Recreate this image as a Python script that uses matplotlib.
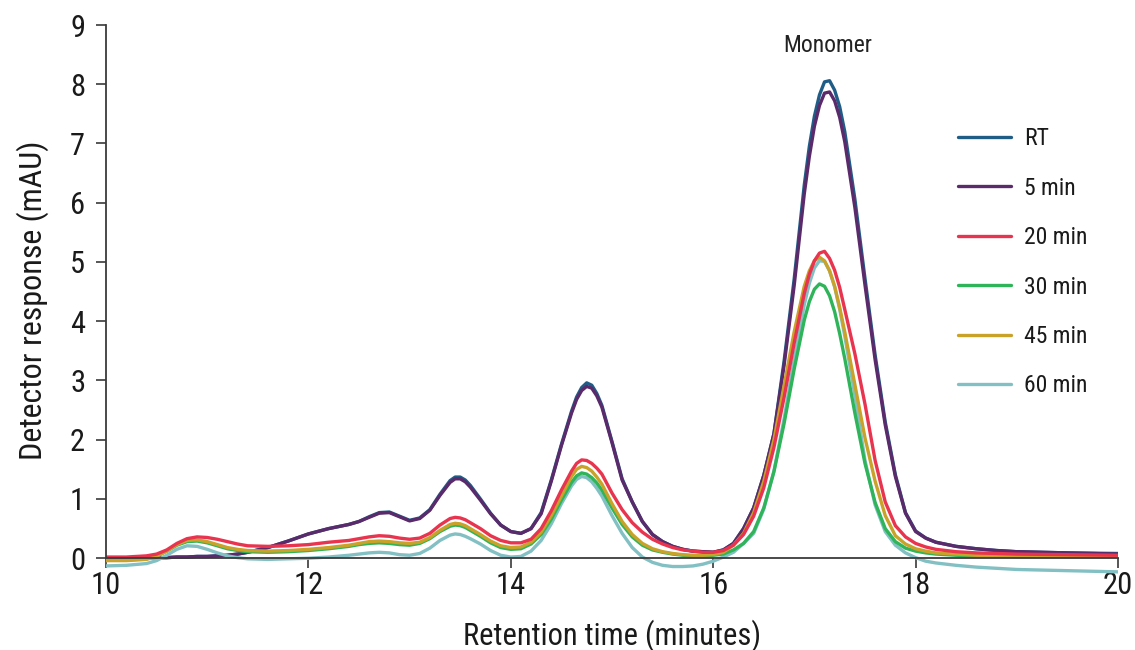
import matplotlib
matplotlib.use("Agg")
import matplotlib.pyplot as plt
from matplotlib import font_manager

# ---------------- data ----------------
time_min = [10.0, 10.2, 10.4, 10.5, 10.6, 10.7, 10.8, 10.9, 11.0, 11.1,
            11.2, 11.3, 11.4, 11.6, 11.8, 12.0, 12.2, 12.4, 12.5, 12.6,
            12.7, 12.8, 12.9, 13.0, 13.1, 13.2, 13.3, 13.4, 13.45, 13.5,
            13.55, 13.6,
            13.7, 13.8, 13.9, 14.0, 14.1, 14.2, 14.3, 14.4, 14.5, 14.6,
            14.65, 14.7, 14.75, 14.8, 14.85, 14.9, 15.0, 15.1, 15.2, 15.3,
            15.4, 15.5, 15.6,
            15.7, 15.8, 15.9, 16.0, 16.1, 16.2, 16.3, 16.4, 16.5, 16.6,
            16.7, 16.8, 16.9, 16.95, 17.0, 17.05, 17.1, 17.15, 17.2, 17.25,
            17.3, 17.4, 17.5, 17.6, 17.7, 17.8, 17.9, 18.0, 18.1, 18.2,
            18.4, 18.6, 18.8, 19.0, 19.5, 20.0]

rt = [0.0, 0.0, 0.01, 0.01, 0.01, 0.02, 0.02, 0.03, 0.03, 0.04,
      0.05, 0.07, 0.1, 0.18, 0.29, 0.41, 0.5, 0.57, 0.62, 0.7,
      0.77, 0.78, 0.71, 0.64, 0.68, 0.82, 1.08, 1.31, 1.37, 1.37,
      1.32, 1.23,
      1.0, 0.76, 0.56, 0.45, 0.42, 0.5, 0.77, 1.32, 1.92, 2.48,
      2.72, 2.88, 2.96, 2.92, 2.78, 2.58, 1.97, 1.34, 0.95, 0.62,
      0.4, 0.28, 0.2,
      0.15, 0.12, 0.11, 0.1, 0.14, 0.25, 0.5, 0.85, 1.4, 2.1,
      3.32, 4.71, 6.3, 6.95, 7.46, 7.82, 8.04, 8.06, 7.9, 7.62,
      7.2, 6.06, 4.72, 3.43, 2.3, 1.41, 0.77, 0.46, 0.34, 0.27,
      0.2, 0.16, 0.13, 0.11, 0.09, 0.08]

min5 = [0.0, 0.0, 0.01, 0.01, 0.01, 0.02, 0.02, 0.03, 0.03, 0.04,
        0.05, 0.07, 0.1, 0.18, 0.29, 0.41, 0.5, 0.57, 0.62, 0.69,
        0.76, 0.77, 0.7, 0.63, 0.67, 0.81, 1.06, 1.28, 1.34, 1.34,
        1.29, 1.2,
        0.98, 0.75, 0.56, 0.45, 0.42, 0.5, 0.75, 1.3, 1.9, 2.45,
        2.68, 2.83, 2.9, 2.87, 2.74, 2.55, 1.95, 1.32, 0.95, 0.62,
        0.4, 0.28, 0.2,
        0.15, 0.12, 0.11, 0.1, 0.14, 0.25, 0.5, 0.85, 1.4, 2.1,
        3.25, 4.6, 6.15, 6.78, 7.29, 7.64, 7.85, 7.87, 7.72, 7.44,
        7.03, 5.92, 4.61, 3.35, 2.25, 1.38, 0.76, 0.45, 0.34, 0.27,
        0.2, 0.16, 0.13, 0.11, 0.09, 0.07]

min20 = [0.02, 0.02, 0.04, 0.07, 0.14, 0.25, 0.33, 0.36, 0.35, 0.32,
         0.28, 0.24, 0.21, 0.2, 0.21, 0.23, 0.27, 0.3, 0.33, 0.36,
         0.38, 0.37, 0.34, 0.32, 0.34, 0.42, 0.56, 0.67, 0.69, 0.68,
         0.65, 0.6,
         0.5, 0.38, 0.3, 0.26, 0.26, 0.32, 0.5, 0.8, 1.15, 1.47,
         1.6, 1.66, 1.65, 1.6, 1.52, 1.42, 1.1, 0.82, 0.6, 0.44,
         0.32, 0.24, 0.18,
         0.14, 0.12, 0.1, 0.1, 0.13, 0.22, 0.4, 0.71, 1.19, 1.87,
         2.71, 3.63, 4.47, 4.79, 5.02, 5.15, 5.18, 5.06, 4.86, 4.57,
         4.2, 3.45, 2.6, 1.65, 0.95, 0.55, 0.36, 0.25, 0.19, 0.15,
         0.11, 0.09, 0.08, 0.07, 0.06, 0.05]

min30 = [-0.03, -0.03, -0.01, 0.04, 0.12, 0.22, 0.28, 0.29, 0.26, 0.21,
         0.16, 0.13, 0.11, 0.1, 0.11, 0.13, 0.16, 0.2, 0.23, 0.25,
         0.26, 0.25, 0.23, 0.22, 0.25, 0.33, 0.45, 0.54, 0.56, 0.55,
         0.52, 0.47,
         0.37, 0.26, 0.18, 0.15, 0.16, 0.24, 0.4, 0.66, 0.98, 1.28,
         1.39, 1.44, 1.42, 1.36, 1.27, 1.15, 0.85, 0.57, 0.36, 0.22,
         0.14, 0.1, 0.07,
         0.05, 0.04, 0.04, 0.05, 0.07, 0.14, 0.25, 0.45, 0.85, 1.46,
         2.27, 3.19, 4.02, 4.33, 4.54, 4.63, 4.59, 4.43, 4.16, 3.79,
         3.37, 2.45, 1.6, 0.94, 0.5, 0.28, 0.17, 0.12, 0.09, 0.07,
         0.05, 0.04, 0.04, 0.03, 0.03, 0.03]

min45 = [-0.04, -0.04, -0.02, 0.03, 0.12, 0.23, 0.3, 0.31, 0.28, 0.23,
         0.18, 0.15, 0.13, 0.12, 0.13, 0.15, 0.18, 0.22, 0.25, 0.28,
         0.29, 0.28, 0.26, 0.25, 0.27, 0.35, 0.47, 0.57, 0.59, 0.58,
         0.55, 0.5,
         0.4, 0.29, 0.21, 0.18, 0.19, 0.27, 0.44, 0.72, 1.05, 1.38,
         1.5, 1.55, 1.53, 1.47, 1.37, 1.25, 0.92, 0.62, 0.4, 0.25,
         0.16, 0.11, 0.08,
         0.06, 0.05, 0.05, 0.06, 0.1, 0.22, 0.42, 0.77, 1.3, 2.0,
         2.91, 3.82, 4.59, 4.85, 5.02, 5.08, 5.02, 4.85, 4.59, 4.23,
         3.82, 2.93, 2.03, 1.3, 0.72, 0.38, 0.24, 0.16, 0.12, 0.09,
         0.07, 0.05, 0.04, 0.04, 0.03, 0.03]

min60 = [-0.13, -0.12, -0.09, -0.04, 0.05, 0.15, 0.21, 0.2, 0.15, 0.09,
         0.04, 0.01, -0.01, -0.02, -0.01, 0.0, 0.02, 0.05, 0.07, 0.09,
         0.1, 0.09, 0.06, 0.05, 0.08, 0.17, 0.3, 0.39, 0.41, 0.4,
         0.37, 0.33,
         0.24, 0.13, 0.05, 0.02, 0.03, 0.12, 0.3, 0.58, 0.92, 1.22,
         1.33, 1.38, 1.36, 1.29, 1.18, 1.05, 0.72, 0.42, 0.18, 0.02,
         -0.07, -0.12, -0.14,
         -0.14, -0.13, -0.1, -0.05, 0.02, 0.1, 0.25, 0.42, 0.83, 1.47,
         2.35, 3.35, 4.28, 4.64, 4.9, 5.02, 5.01, 4.85, 4.58, 4.2,
         3.75, 2.75, 1.65, 0.9, 0.45, 0.22, 0.09, 0.01, -0.05, -0.08,
         -0.12, -0.15, -0.17, -0.19, -0.21, -0.23]

series_names = ["RT", "5 min", "20 min", "30 min", "45 min", "60 min"]
series_values = [rt, min5, min20, min30, min45, min60]
series_colors = ["#1f5d86", "#5a2a6b", "#e8344e", "#2fb45a", "#c9a22a", "#82c0c4"]
draw_order = [0, 1, 5, 3, 4, 2]

x_ticks = [10, 12, 14, 16, 18, 20]
y_ticks = [0, 1, 2, 3, 4, 5, 6, 7, 8, 9]

for v in series_values:
    assert len(v) == len(time_min)

# ---------------- fonts ----------------
avail = {f.name for f in font_manager.fontManager.ttflist}
fam = next((f for f in ["Liberation Sans Narrow", "Roboto Condensed", "Roboto", "Liberation Sans"]
            if f in avail), "DejaVu Sans")
plt.rcParams["font.family"] = [fam, "DejaVu Sans"]

# ---------------- figure ----------------
W, H = 1135, 650
fig = plt.figure(figsize=(W / 100, H / 100), dpi=100)
ax = fig.add_axes([106 / W, 74 / H, (1118 - 106) / W, (625 - 74) / H])

handles = {}
for i in draw_order:
    (ln,) = ax.plot(time_min, series_values[i], color=series_colors[i], lw=2.4,
                    solid_joinstyle="round", solid_capstyle="round", label=series_names[i])
    handles[i] = ln

ax.set_xlim(10, 20)
ax.set_ylim(-0.3, 9)
ax.set_xticks(x_ticks)
ax.set_yticks(y_ticks)

for s in ["top", "right"]:
    ax.spines[s].set_visible(False)
ax.spines["bottom"].set_position(("data", 0))
ax.spines["left"].set_bounds(0, 9)
for s in ["bottom", "left"]:
    ax.spines[s].set_color("#3a3a3a")
    ax.spines[s].set_linewidth(1.3)
ax.tick_params(axis="both", direction="out", length=7, width=1.2, color="#3a3a3a",
               labelsize=22, labelcolor="#1a1a1a")
ax.tick_params(axis="y", pad=8)
ax.tick_params(axis="x", pad=2)

ax.set_ylabel("Detector response (mAU)", fontsize=23, color="#1a1a1a", labelpad=15)
ax.set_xlabel("Retention time (minutes)", fontsize=22, color="#1a1a1a")
ax.xaxis.set_label_coords(0.5, -0.078)

ax.text(17.13, 8.66, "Monomer", ha="center", va="center", fontsize=17, color="#222222")

leg = fig.legend([handles[i] for i in range(6)], series_names, loc="upper left",
                 bbox_to_anchor=(937 / W, 1 - 106 / H), frameon=False, fontsize=17,
                 handlelength=2.25, handletextpad=0.55, labelspacing=1.12)
for t in leg.get_texts():
    t.set_color("#1a1a1a")

fig.savefig("out.png", dpi=100)
